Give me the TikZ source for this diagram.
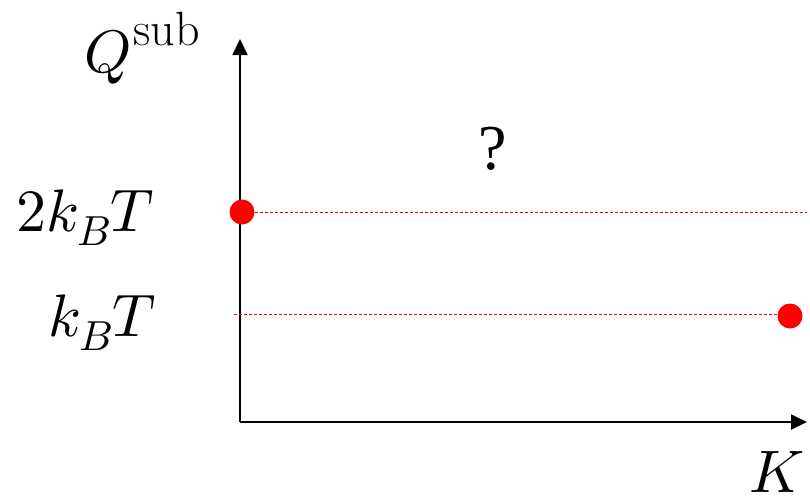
\documentclass[tikz,border=0pt]{standalone}
\usepackage{fontspec}
\usepackage{unicode-math}
\newfontfamily\qfont{Liberation Serif}
\usetikzlibrary{arrows.meta}
\begin{document}
\begin{tikzpicture}[x=1pt,y=-1pt,
  axis/.style={line width=1.8pt,-{Triangle[length=16pt,width=15pt]}},
  guide/.style={red,densely dashed,line width=0.7pt},
  dot/.style={circle,fill=red,inner sep=0pt,minimum size=25pt},
  lab/.style={font=\fontsize{60}{66}\selectfont,inner sep=0pt}]
\useasboundingbox (0,0) rectangle (810,501);
\coordinate (O) at (240,422);
\coordinate (ytop) at (240,39);
\coordinate (xend) at (807,422);
\draw[axis] (O) -- (ytop);
\draw[axis] (O) -- (xend);
\node[dot] (d1) at (242,212) {};
\node[dot] (d2) at (790,316) {};
\coordinate (g1e) at (807,212);
\coordinate (g2s) at (234,314);
\draw[guide] (d1.east) -- (g1e);
\draw[guide] (g2s) -- (d2.west |- g2s);
\node[lab,anchor=base west] (tQ) at (84,72) {$Q$\hspace{2pt}\raisebox{27pt}{\fontsize{48}{48}\selectfont sub}};
\node[lab,anchor=base east] (t2) at (155,231) {$2k_BT$};
\node[lab,anchor=base east] (t1) at (157,336) {$k_BT$};
\node[lab,anchor=base] (tK) at (777,492) {$K$};
\node[font=\qfont\fontsize{64}{70}\selectfont,inner sep=0pt,anchor=base] (tq) at (493,169) {?};
\end{tikzpicture}
\end{document}
